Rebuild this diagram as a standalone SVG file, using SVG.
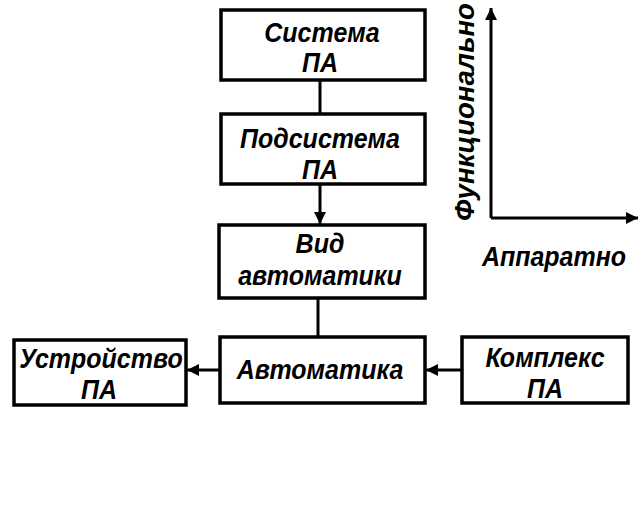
<svg xmlns="http://www.w3.org/2000/svg" width="642" height="508" viewBox="0 0 642 508">
<defs>
<marker id="ah" viewBox="0 0 10 10" refX="10" refY="5" markerWidth="4" markerHeight="4" orient="auto-start-reverse">
<path d="M0,0 L10,5 L0,10 Z" fill="#000"/>
</marker>
<style>
.box{fill:#fff;stroke:#000;stroke-width:3.5}
.t{font-family:"Liberation Sans",Arial,sans-serif;font-style:italic;font-weight:bold;font-size:25px;fill:#000;text-anchor:middle}
.c{stroke:#000;stroke-width:3;fill:none}
</style>
</defs>
<rect width="642" height="508" fill="#fff"/>
<g id="connectors">
<line class="c" x1="320" y1="80" x2="320" y2="113"/>
<line class="c" x1="320" y1="184" x2="320" y2="224" marker-end="url(#ah)"/>
<line class="c" x1="318" y1="298" x2="318" y2="337"/>
<line class="c" x1="220" y1="370" x2="187" y2="370" marker-end="url(#ah)"/>
<line class="c" x1="462" y1="370" x2="426" y2="370" marker-end="url(#ah)"/>
<line class="c" x1="491" y1="218" x2="491" y2="8" marker-end="url(#ah)"/>
<line class="c" x1="491" y1="218" x2="638" y2="218" marker-end="url(#ah)"/>
</g>
<g id="sistema">
<rect class="box" x="221" y="10" width="204" height="70"/>
<text class="t" transform="translate(322,42) scale(1,1.1)">Система</text>
<text class="t" transform="translate(320,72) scale(1,1.1)">ПА</text>
</g>
<g id="podsistema">
<rect class="box" x="221" y="114" width="204" height="70"/>
<text class="t" transform="translate(320,148) scale(1,1.1)">Подсистема</text>
<text class="t" transform="translate(320,179) scale(1,1.1)">ПА</text>
</g>
<g id="vid">
<rect class="box" x="219" y="225" width="206" height="73"/>
<text class="t" transform="translate(320,253) scale(1,1.1)">Вид</text>
<text class="t" transform="translate(320,285) scale(1,1.1)">автоматики</text>
</g>
<g id="avtomatika">
<rect class="box" x="220" y="337" width="205" height="66"/>
<text class="t" transform="translate(320,379) scale(1,1.1)">Автоматика</text>
</g>
<g id="ustroystvo">
<rect class="box" x="14" y="340" width="172" height="65"/>
<text class="t" transform="translate(101,368) scale(1,1.1)">Устройство</text>
<text class="t" transform="translate(99,399) scale(1,1.1)">ПА</text>
</g>
<g id="kompleks">
<rect class="box" x="462" y="337" width="166" height="66"/>
<text class="t" transform="translate(545,367) scale(1,1.1)">Комплекс</text>
<text class="t" transform="translate(545,398) scale(1,1.1)">ПА</text>
</g>
<g id="axes">
<text class="t" transform="translate(474,112) rotate(-90) scale(1.1,1.1)">Функционально</text>
<text class="t" transform="translate(554,266) scale(1,1.1)">Аппаратно</text>
</g>
</svg>
